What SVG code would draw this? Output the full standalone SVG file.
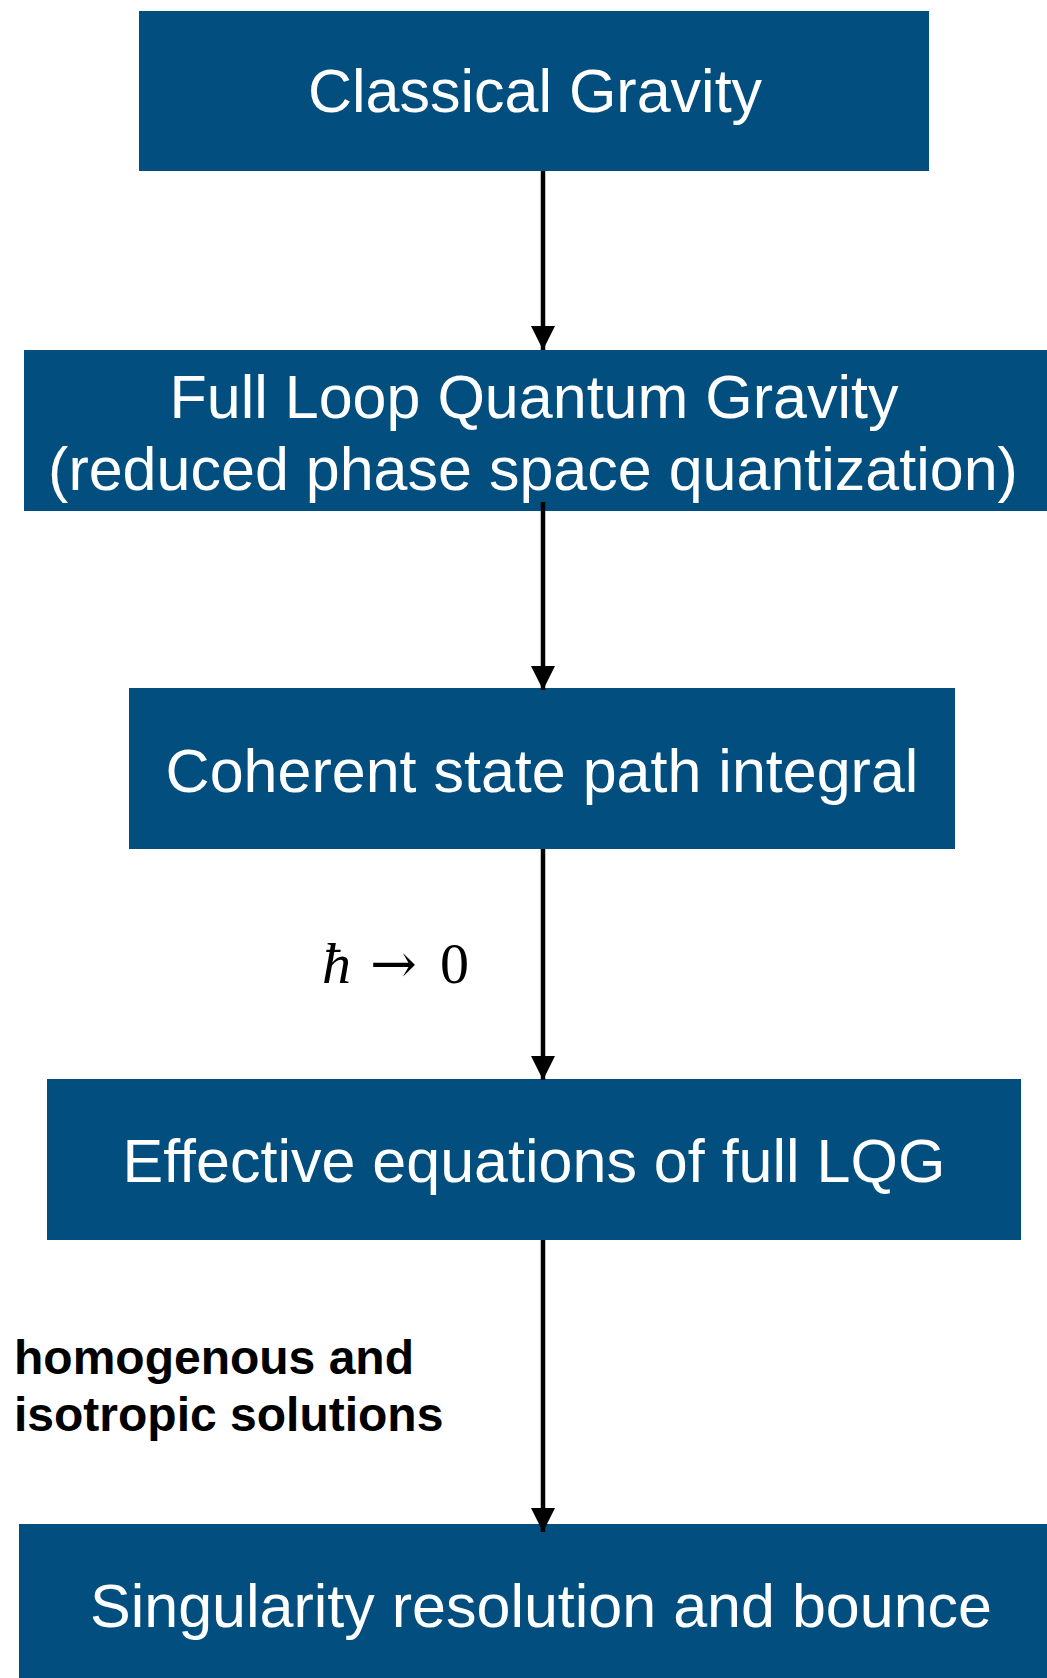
<svg xmlns="http://www.w3.org/2000/svg" width="1047" height="1678" viewBox="0 0 1047 1678">
<style>
.box{fill:#024F7F}
.t{font-family:"Liberation Sans",Arial,sans-serif;font-size:61px;fill:#ffffff;text-anchor:middle}
.lbl{font-family:"Liberation Sans",Arial,sans-serif;font-size:48px;font-weight:bold;fill:#000000}
.math{font-family:"Liberation Serif","Times New Roman",serif;font-size:58px;fill:#000000}
.arr{font-family:"DejaVu Serif",serif;font-size:56px;fill:#000000}
.edge{stroke:#000000;stroke-width:4.5;fill:none}
</style>
<defs>
<marker id="ahd" markerUnits="userSpaceOnUse" markerWidth="24" markerHeight="24" viewBox="0 0 24 24" refX="24" refY="12" orient="auto">
<path d="M0,0 L24,12 L0,24 Z" fill="#000000"/>
</marker>
</defs>
<rect width="1047" height="1678" fill="#ffffff"/>
<g id="n1"><rect class="box" x="139" y="11" width="790" height="160"/><text class="t" x="535" y="112">Classical Gravity</text></g>
<g id="n2"><rect class="box" x="24" y="350" width="1023" height="161"/><text class="t" x="534" y="418">Full Loop Quantum Gravity</text><text class="t" x="533" y="490">(reduced phase space quantization)</text></g>
<g id="n3"><rect class="box" x="129" y="688" width="826" height="161"/><text class="t" x="542" y="792">Coherent state path integral</text></g>
<g id="n4"><rect class="box" x="47" y="1079" width="974" height="161"/><text class="t" x="534" y="1182">Effective equations of full LQG</text></g>
<g id="n5"><rect class="box" x="19" y="1524" width="1028" height="154"/><text class="t" x="541" y="1627">Singularity resolution and bounce</text></g>
<g id="edges">
<line class="edge" x1="543" y1="171" x2="543" y2="350" marker-end="url(#ahd)"/>
<line class="edge" x1="543" y1="502" x2="543" y2="690" marker-end="url(#ahd)"/>
<line class="edge" x1="543" y1="849" x2="543" y2="1080" marker-end="url(#ahd)"/>
<line class="edge" x1="543" y1="1240" x2="543" y2="1532" marker-end="url(#ahd)"/>
</g>
<g id="labels">
<text class="math" x="322" y="983" font-style="italic">ħ</text>
<text class="arr" x="370" y="983">→</text>
<text class="math" x="440" y="983">0</text>
<text class="lbl" x="14" y="1374">homogenous and</text>
<text class="lbl" x="14" y="1431">isotropic solutions</text>
</g>
</svg>
